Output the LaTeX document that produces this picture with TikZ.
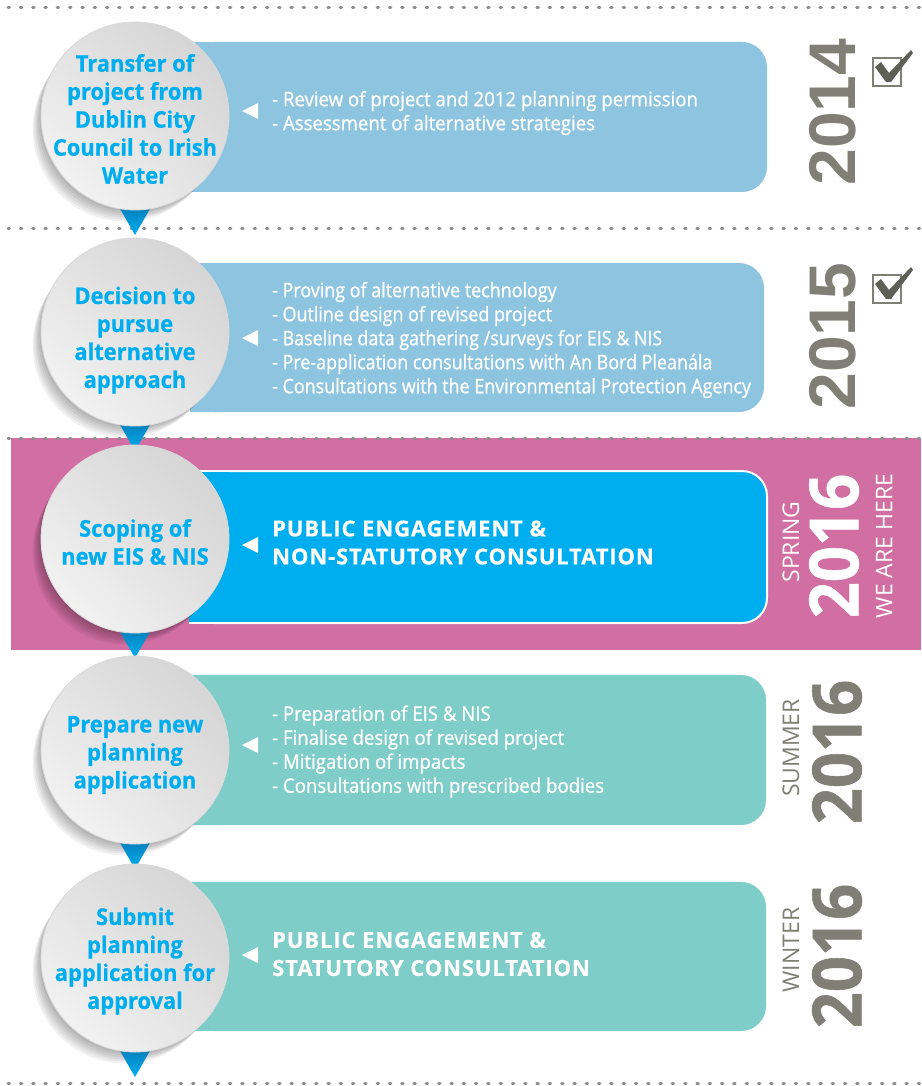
\documentclass[tikz,border=0pt]{standalone}
\usepackage{fontspec}
\setmainfont{Open Sans}
\newfontfamily\bodyf[FakeStretch=0.93,FakeBold=0.8]{Open Sans}
\newfontfamily\bodyc[FakeStretch=0.895,FakeBold=0.8]{Open Sans}
\newfontfamily\capsf[LetterSpace=4,FakeBold=0.5]{Open Sans}
\newfontfamily\circf[FakeStretch=0.95,FakeBold=0.8]{Open Sans}
\newfontfamily\yearf{Liberation Sans}
\usetikzlibrary{calc,shadings}
\definecolor{lblue}{HTML}{8DC5E1}
\definecolor{bblue}{HTML}{00AEEF}
\definecolor{tealbox}{HTML}{7ECDC9}
\definecolor{pinkband}{HTML}{D16EA2}
\definecolor{yeargray}{HTML}{7F7F75}
\definecolor{checkgray}{HTML}{5E5F57}
\definecolor{dotgray}{HTML}{8E8E8E}
\definecolor{tridark}{HTML}{0A74AE}
\definecolor{circdark}{HTML}{D0D0D0}
\definecolor{circlight}{HTML}{F8F8F8}
\tikzset{
  boxshape/.style={rectangle, rounded corners=25pt, inner sep=0pt},
  circ/.style={circle, minimum size=188pt, inner sep=0pt, draw=white!85!black, line width=0.8pt,
    upper right=circdark, upper left=circdark!55!circlight, lower right=circdark!55!circlight, lower left=circlight},
  circtext/.style={text=bblue, align=center, inner sep=0pt, font=\circf\bfseries\fontsize{23}{28}\selectfont},
  boxtext/.style={anchor=west, align=left, text=white, inner sep=0pt, font=\bodyf\fontsize{20}{24}\selectfont},
  boxtextc/.style={boxtext, font=\bodyc\fontsize{20}{24}\selectfont},
  boxbold/.style={anchor=west, align=left, text=white, inner sep=0pt, font=\capsf\bfseries\fontsize{22}{28}\selectfont},
  yearbig/.style={rotate=90, inner sep=0pt, font=\yearf\bfseries\fontsize{66}{66}\selectfont, text=yeargray},
  yearopen/.style={rotate=90, inner sep=0pt, font=\bodyf\bfseries\fontsize{68}{68}\selectfont},
  season/.style={rotate=90, inner sep=0pt, font=\fontsize{23}{23}\selectfont},
  dotline/.style={dotgray, line width=3pt, dash pattern=on 1.5pt off 10.8pt, line cap=round},
  pointer/.style={fill=white},
  shadowc/.style={fill=black, opacity=0.055},
  tri/.style={top color=tridark, bottom color=bblue}
}
\begin{document}
\begin{tikzpicture}[x=1pt,y=-1pt]
\useasboundingbox (0,0) rectangle (921,1086);
% pink band
\fill[pinkband] (11,438) rectangle (921,650);
% dotted separators
\draw[dotline] (8,8) -- (921,8);
\draw[dotline] (8,228) -- (921,228);
\draw[dotline] (8,438) -- (921,438);
\draw[dotline] (8,1083) -- (921,1083);
% boxes
\node[boxshape, fill=lblue, minimum width=577pt, minimum height=150pt] (b1) at (478.5,117) {};
\fill[lblue] (b1.north west) rectangle ([xshift=40pt]b1.south west);
\node[boxshape, fill=lblue, minimum width=574pt, minimum height=149pt] (b2) at (477,337.5) {};
\fill[lblue] (b2.north west) rectangle ([xshift=40pt]b2.south west);
\node[boxshape, fill=bblue, draw=white, line width=2pt, minimum width=577pt, minimum height=152pt] (b3) at (478.5,547) {};
\fill[bblue] ([yshift=-1pt]b3.north west) rectangle ([xshift=40pt,yshift=1pt]b3.south west);
\draw[white, line width=2pt] ([yshift=-1pt]b3.north west) -- ([xshift=40pt,yshift=-1pt]b3.north west);
\draw[white, line width=2pt] ([yshift=1pt]b3.south west) -- ([xshift=40pt,yshift=1pt]b3.south west);
\node[boxshape, fill=tealbox, minimum width=576pt, minimum height=150pt] (b4) at (478,750) {};
\fill[tealbox] (b4.north west) rectangle ([xshift=40pt]b4.south west);
\node[boxshape, fill=tealbox, minimum width=576pt, minimum height=149pt] (b5) at (478,956.5) {};
\fill[tealbox] (b5.north west) rectangle ([xshift=40pt]b5.south west);
% circle positions
\coordinate (p1) at (135,116);
\coordinate (p2) at (135,332);
\coordinate (p3) at (135,539);
\coordinate (p4) at (135,750);
\coordinate (p5) at (135,958);
% shadows
\foreach \p in {p1,p2,p3,p4,p5}{
  \foreach \k in {1,...,6}{
    \fill[shadowc] (\p) ++(-1.7*\k,2.2*\k) circle[radius=94-0.3*\k];
  }
}
% down pointers
\foreach \p in {p1,p2,p3,p4,p5}{
  \shade[tri] ($(\p)+(-20,84)$) -- ($(\p)+(20,84)$) -- ($(\p)+(0,119)$) -- cycle;
}
% circles
\node[circ] (c1) at (p1) {};
\node[circ] (c2) at (p2) {};
\node[circ] (c3) at (p3) {};
\node[circ] (c4) at (p4) {};
\node[circ] (c5) at (p5) {};
\node[circtext] (l1) at ([yshift=-3pt]c1.center) {Transfer of\\project from\\Dublin City\\Council to Irish\\Water};
\node[circtext] (l2) at ([yshift=-8pt]c2.center) {Decision to\\pursue\\alternative\\approach};
\node[circtext] (l3) at ([yshift=-3pt]c3.center) {Scoping of\\new EIS \& NIS};
\node[circtext] (l4) at ([yshift=-5pt]c4.center) {Prepare new\\planning\\application};
\node[circtext] (l5) at ([yshift=-3pt]c5.center) {Submit\\planning\\application for\\approval};
% small pointers
\foreach \yy in {111,338,545,745,955}{
  \fill[pointer] (242,\yy) -- (258,\yy-8) -- (258,\yy+8) -- cycle;
}
% box texts
\node[boxtext] (t1) at (272,113) {- Review of project and 2012 planning permission\\- Assessment of alternative strategies};
\node[boxtextc] (t2) at (272,340) {- Proving of alternative technology\\- Outline design of revised project\\- Baseline data gathering /surveys for EIS \& NIS\\- Pre-application consultations with An Bord Pleanála\\- Consultations with the Environmental Protection Agency};
\node[boxbold] (t3) at (272,542.5) {PUBLIC ENGAGEMENT \&\\NON-STATUTORY CONSULTATION};
\node[boxtext] (t4) at (272,751.5) {- Preparation of EIS \& NIS\\- Finalise design of revised project\\- Mitigation of impacts\\- Consultations with prescribed bodies};
\node[boxbold] (t5) at (272,954) {PUBLIC ENGAGEMENT \&\\STATUTORY CONSULTATION};
% years
\node[yearbig] (y1) at (833,112) {2014};
\node[yearbig] (y2) at (833,336) {2015};
\node[season, text=white] (s3) at (791,542) {SPRING};
\node[yearopen, text=white] (y3) at (834,546) {2016};
\node[season, text=white] (w3) at (884,546) {WE ARE HERE};
\node[season, text=yeargray] (s4) at (791,748) {SUMMER};
\node[yearopen, text=yeargray] (y4) at (837,752) {2016};
\node[season, text=yeargray] (s5) at (791,950) {WINTER};
\node[yearopen, text=yeargray] (y5) at (837,956) {2016};
% check boxes
\foreach \dy in {0,217}{
  \begin{scope}[yshift=-\dy pt]
    \draw[yeargray, line width=1.6pt] (873,58) rectangle (901,86);
    \fill[checkgray] (875,67) -- (881,62) -- (889,73) -- (911,50) -- (913,53) -- (891,82) -- (886,82) -- cycle;
  \end{scope}
}
\end{tikzpicture}
\end{document}
